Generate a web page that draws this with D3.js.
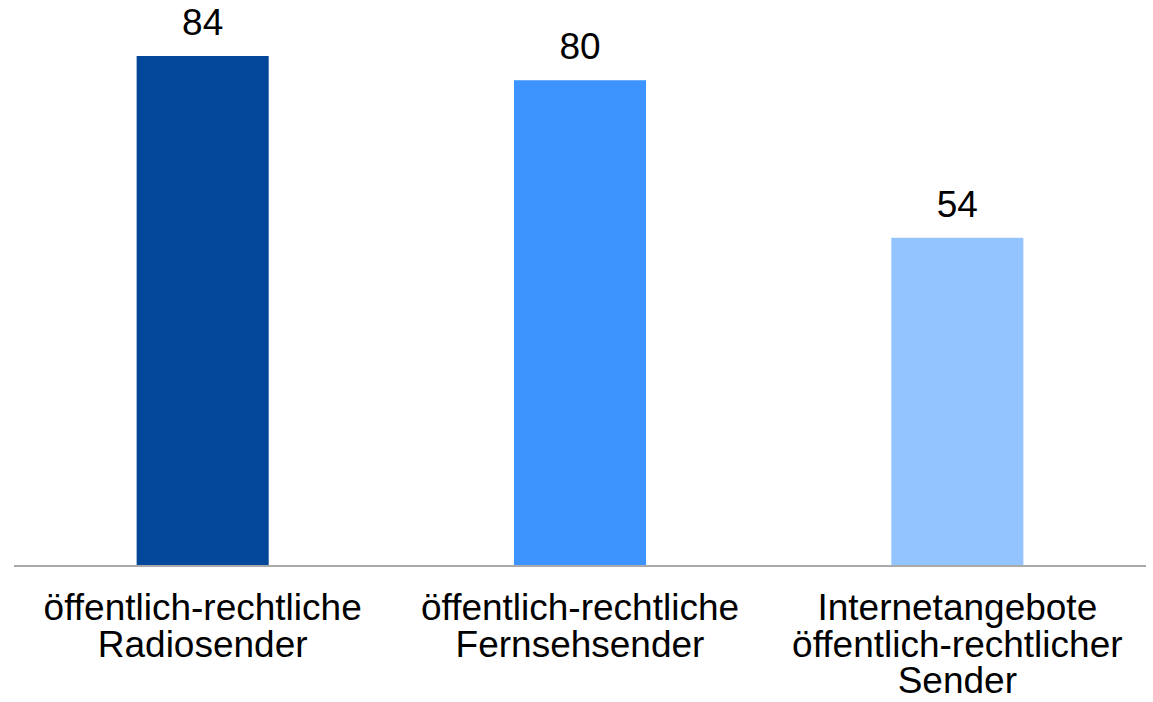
<!DOCTYPE html>
<html>
<head>
<meta charset="utf-8">
<script src="https://cdn.jsdelivr.net/npm/d3@7"></script>
<style>
  html, body { margin: 0; padding: 0; background: #ffffff; }
  svg { display: block; }
  text { font-family: "Liberation Sans", Arial, sans-serif; fill: #000; }
</style>
</head>
<body>
<svg id="chart" width="1153" height="702"></svg>
<script>
// Categories (each label split into its display lines)
const categories = [
  ["öffentlich-rechtliche", "Radiosender"],
  ["öffentlich-rechtliche", "Fernsehsender"],
  ["Internetangebote", "öffentlich-rechtlicher", "Sender"]
];
// Values in percent
const values = [84, 80, 54];
const barColors = ["#03479a", "#3d94ff", "#94c4ff"];

const svg = d3.select("#chart");
const x0 = 14, x1 = 1146, baseY = 565;

const x = d3.scaleBand()
  .domain(d3.range(categories.length))
  .range([x0, x1])
  .paddingInner(0.65)
  .paddingOuter(0.325);

const y = d3.scaleLinear()
  .domain([0, 84])
  .range([baseY, 56]);

// Bars
svg.selectAll("rect.bar")
  .data(values)
  .join("rect")
  .attr("class", "bar")
  .attr("x", (d, i) => x(i))
  .attr("width", x.bandwidth())
  .attr("y", d => y(d))
  .attr("height", d => baseY - y(d))
  .attr("fill", (d, i) => barColors[i]);

// Value labels
svg.selectAll("text.value")
  .data(values)
  .join("text")
  .attr("class", "value")
  .attr("x", (d, i) => x(i) + x.bandwidth() / 2)
  .attr("y", d => y(d) - 21)
  .attr("text-anchor", "middle")
  .style("font-size", "37px")
  .text(d => d);

// Baseline axis
const xAxis = d3.axisBottom(x).tickSize(0).tickFormat("");
const axisG = svg.append("g")
  .attr("transform", `translate(0,${baseY + 1})`)
  .call(xAxis);
axisG.select(".domain")
  .attr("stroke", "#aaaaaa")
  .attr("stroke-width", 2)
  .attr("d", `M${x0},0H${x1}`);

// Category labels
const lbl = svg.selectAll("text.cat")
  .data(categories)
  .join("text")
  .attr("class", "cat")
  .attr("text-anchor", "middle")
  .style("font-size", "37px")
  .attr("x", (d, i) => x(i) + x.bandwidth() / 2)
  .attr("y", 620);

lbl.selectAll("tspan")
  .data(d => d)
  .join("tspan")
  .attr("x", function() { return d3.select(this.parentNode).attr("x"); })
  .attr("dy", (d, i) => i === 0 ? 0 : 36.5)
  .text(d => d);
</script>
</body>
</html>
